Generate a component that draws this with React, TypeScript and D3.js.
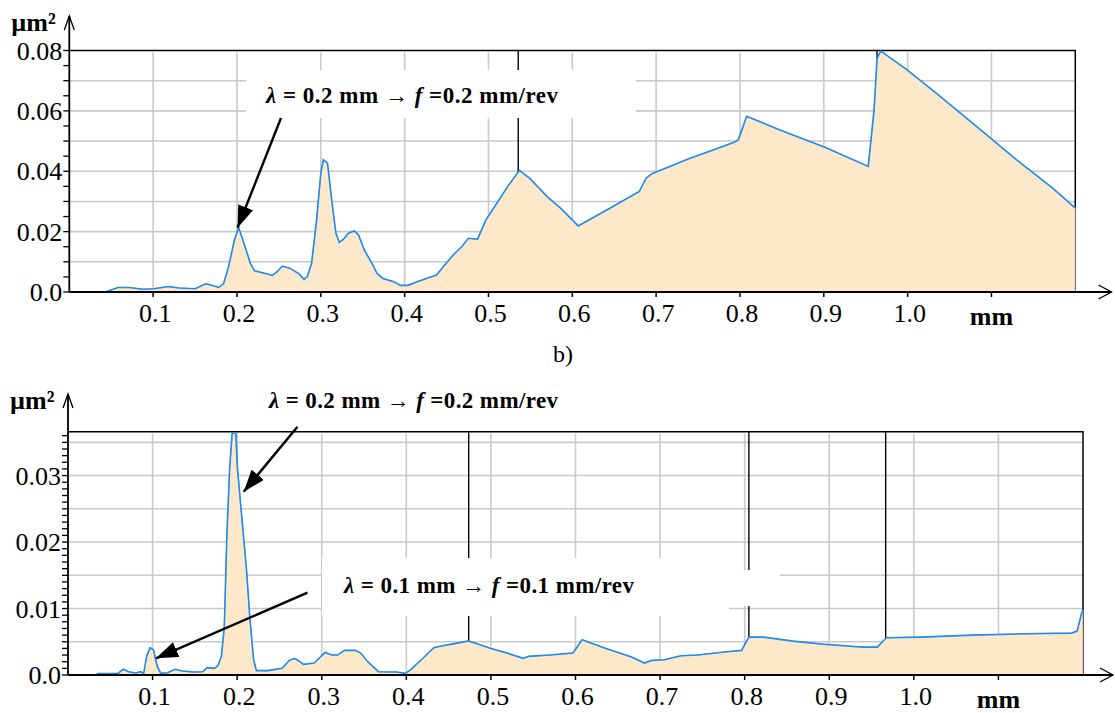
import React from "react";
import * as d3 from "d3";

// spectrum a) — upper panel
const topMm = [
  0, 0.043, 0.058, 0.071, 0.088, 0.101, 0.118, 0.131, 0.15, 0.163, 0.173, 0.178, 0.184, 0.19, 0.197,
  0.202, 0.207, 0.216, 0.221, 0.233, 0.242, 0.248, 0.254, 0.263, 0.274, 0.28, 0.284, 0.289, 0.295,
  0.3, 0.303, 0.308, 0.313, 0.318, 0.322, 0.327, 0.333, 0.34, 0.345, 0.352, 0.361, 0.367, 0.374,
  0.387, 0.395, 0.404, 0.412, 0.425, 0.438, 0.446, 0.459, 0.468, 0.476, 0.487, 0.497, 0.51, 0.523,
  0.537, 0.549, 0.57, 0.586, 0.607, 0.64, 0.68, 0.688, 0.695, 0.736, 0.793, 0.798, 0.808, 0.85,
  0.902, 0.953, 0.96, 0.9636, 0.968, 0.999, 1.034, 1.077, 1.13, 1.173, 1.2,
];
const topPower = [
  0, 0, 0.0015, 0.0015, 0.0009, 0.0011, 0.0018, 0.0013, 0.0011, 0.0027, 0.002, 0.0015, 0.0027, 0.0084,
  0.0173, 0.0213, 0.0173, 0.0095, 0.007, 0.0062, 0.0055, 0.0067, 0.0086, 0.0079, 0.006, 0.0042, 0.0051,
  0.0095, 0.0239, 0.0394, 0.0438, 0.0427, 0.0305, 0.0195, 0.0164, 0.0175, 0.0195, 0.0202, 0.0189,
  0.0139, 0.0095, 0.0062, 0.0045, 0.0034, 0.0022, 0.0022, 0.0031, 0.0044, 0.0056, 0.0084, 0.0126,
  0.015, 0.0178, 0.0175, 0.0239, 0.0294, 0.035, 0.0403, 0.0377, 0.0316, 0.0278, 0.0219, 0.027, 0.0333,
  0.0377, 0.0392, 0.0438, 0.0496, 0.0504, 0.0582, 0.0534, 0.0479, 0.0416, 0.0604, 0.0775, 0.0798,
  0.0737, 0.0659, 0.056, 0.0438, 0.0344, 0.0278,
];

// spectrum b) — lower panel
const bottomMm = [
  0, 0.0325, 0.0359, 0.059, 0.0654, 0.0717, 0.08, 0.0857, 0.0895, 0.093, 0.097, 0.101, 0.1055, 0.1097,
  0.118, 0.1266, 0.135, 0.1477, 0.1595, 0.1646, 0.173, 0.1772, 0.1814, 0.1848, 0.1878, 0.1911, 0.1941,
  0.1983, 0.2004, 0.2046, 0.211, 0.2152, 0.2194, 0.2228, 0.2363, 0.2532, 0.2616, 0.2679, 0.2743,
  0.2785, 0.2911, 0.3038, 0.3122, 0.3186, 0.327, 0.3397, 0.346, 0.3544, 0.367, 0.3882, 0.3987, 0.405,
  0.4177, 0.4325, 0.443, 0.46, 0.4726, 0.481, 0.5, 0.519, 0.538, 0.5443, 0.5696, 0.597, 0.6078, 0.636,
  0.6663, 0.6815, 0.69, 0.7052, 0.7248, 0.7443, 0.779, 0.7964, 0.805, 0.8224, 0.857, 0.896, 0.9177,
  0.9394, 0.9567, 0.9676, 1.0087, 1.0694, 1.13, 1.1865, 1.193, 1.1986, 1.2,
];
const bottomPower = [
  0, 0, 0.0002, 0.00025, 0.00086, 0.0005, 0.0003, 0.0005, 0.00025, 0.0028, 0.0041, 0.0038, 0.0013,
  0.00025, 0.00035, 0.00086, 0.0006, 0.00045, 0.0005, 0.0011, 0.001, 0.0014, 0.0028, 0.0073, 0.021,
  0.031, 0.0364, 0.0364, 0.031, 0.025, 0.0159, 0.0083, 0.0023, 0.00066, 0.00066, 0.001, 0.0022, 0.0025,
  0.002, 0.0016, 0.0018, 0.0034, 0.003, 0.003, 0.0037, 0.0037, 0.0033, 0.002, 0.0005, 0.00045, 0.00025,
  0.00076, 0.0023, 0.0041, 0.0044, 0.0048, 0.0051, 0.0048, 0.004, 0.0033, 0.0025, 0.0028, 0.003, 0.0033,
  0.0053, 0.004, 0.0027, 0.0018, 0.0022, 0.0023, 0.0029, 0.003, 0.0035, 0.0037, 0.0057, 0.0057, 0.0051,
  0.0046, 0.0044, 0.0042, 0.0042, 0.0056, 0.0057, 0.006, 0.0062, 0.0063, 0.0066, 0.0094, 0.0098,
];

const xTicks = [0.1, 0.2, 0.3, 0.4, 0.5, 0.6, 0.7, 0.8, 0.9, 1.0, 1.1];
const xTickLabels = ["0.1", "0.2", "0.3", "0.4", "0.5", "0.6", "0.7", "0.8", "0.9", "1.0"];
const topYTicks = [0, 0.02, 0.04, 0.06, 0.08];
const topYLabels = ["0.0", "0.02", "0.04", "0.06", "0.08"];
const bottomYTicks = [0, 0.01, 0.02, 0.03];
const bottomYLabels = ["0.0", "0.01", "0.02", "0.03"];
const topMarkers = [0.5355, 0.9635];
const bottomMarkers = [0.4737, 0.805, 0.9667];

const FONT = "'Liberation Serif', 'Times New Roman', serif";
const GRID = "#c9c9c9";
const FILL = "#fde8ca";
const BLUE = "#1e8cf0";

function steps(step, max) {
  const n = Math.round(max / step);
  return d3.range(0, n + 1).map((i) => +(i * step).toFixed(6)).filter((v) => v <= max + 1e-9);
}

function valueAt(mm, power, m) {
  const i = Math.max(1, d3.bisectRight(mm, m));
  const t = (m - mm[i - 1]) / (mm[i] - mm[i - 1]);
  return power[i - 1] + t * (power[i] - power[i - 1]);
}

function Panel(props) {
  const { mm, power, yMax, gridStep, minorStep, yTicks, yLabels, markers, frame, boxes } = props;
  const x = d3.scaleLinear().domain([0, 1.2]).range([frame.left, frame.right]);
  const y = d3.scaleLinear().domain([0, yMax]).range([frame.base, frame.top]);
  const pts = mm.map((m, i) => [m, Math.min(power[i], yMax)]);

  const area = d3.area().x((d) => x(d[0])).y0(y(0)).y1((d) => y(d[1]))(pts);
  const line = d3.line().x((d) => x(d[0])).y((d) => y(d[1]))(pts.slice(1));

  const hGrid = steps(gridStep, yMax).filter((v) => v > 0 && y(v) > frame.top + 2);
  const minor = steps(minorStep, yMax);

  return (
    <g>
      {xTicks.map((t) => (
        <line key={"vg" + t} x1={x(t)} x2={x(t)} y1={frame.top + 2} y2={frame.base} stroke={GRID} strokeWidth={1.6} />
      ))}
      {hGrid.map((v) => (
        <line key={"hg" + v} x1={frame.left} x2={frame.right} y1={y(v)} y2={y(v)} stroke={GRID} strokeWidth={1.6} />
      ))}
      {markers.map((m) => (
        <line key={"mk" + m} x1={x(m)} x2={x(m)} y1={frame.top} y2={y(valueAt(mm, power, m))} stroke="#000" strokeWidth={1.4} />
      ))}
      <path d={`M${frame.left},${frame.top}H${frame.right}V${frame.base}`} fill="none" stroke="#000" strokeWidth={1.5} />
      {boxes.map((b, i) => (
        <rect key={"bx" + i} x={b.x} y={b.y} width={b.w} height={b.h} fill="#fff" />
      ))}
      <path d={area} fill={FILL} stroke="#9a9a9a" strokeWidth={0.8} />
      <path d={line} fill="none" stroke={BLUE} strokeWidth={1.6} />

      {/* axes */}
      <line x1={frame.left} x2={frame.left} y1={frame.base} y2={frame.axisTop} stroke="#000" strokeWidth={1.8} />
      <path
        d={`M${frame.left - 5},${frame.axisTop + 14}L${frame.left},${frame.axisTop}L${frame.left + 5},${frame.axisTop + 14}`}
        fill="none"
        stroke="#000"
        strokeWidth={1.3}
      />
      <line x1={frame.left} x2={frame.axisRight} y1={frame.base} y2={frame.base} stroke="#000" strokeWidth={1.8} />
      <path
        d={`M${frame.axisRight - 13},${frame.base - 7}L${frame.axisRight},${frame.base}L${frame.axisRight - 13},${frame.base + 7}`}
        fill="none"
        stroke="#000"
        strokeWidth={1.3}
      />
      {minor.map((v) => (
        <line key={"mt" + v} x1={frame.left - 6} x2={frame.left} y1={y(v)} y2={y(v)} stroke="#000" strokeWidth={1.3} />
      ))}
      {xTicks.map((t) => (
        <line key={"xt" + t} x1={x(t)} x2={x(t)} y1={frame.base} y2={frame.base + 5} stroke="#000" strokeWidth={1.5} />
      ))}

      <g fontFamily={FONT} fontSize={26} fill="#000">
        {yTicks.map((v, i) => (
          <text key={"yl" + v} x={frame.left - 7} y={y(v) + 9} textAnchor="end">
            {yLabels[i]}
          </text>
        ))}
        {xTickLabels.map((l, i) => (
          <text key={"xl" + l} x={x(xTicks[i]) + 2} y={frame.base + 30} textAnchor="middle">
            {l}
          </text>
        ))}
        <text x={x(1.1)} y={frame.base + 33} textAnchor="middle" fontWeight="bold">
          mm
        </text>
        <text x={frame.left - 58} y={frame.axisTop + 15} fontWeight="bold">
          µm²
        </text>
      </g>
    </g>
  );
}

function Note({ x, y, width, lam, feed }) {
  return (
    <text x={x} y={y} fontFamily={FONT} fontSize={23} fontWeight="bold" textLength={width} lengthAdjust="spacing">
      <tspan fontStyle="italic">λ</tspan>
      <tspan>{` = ${lam} mm → `}</tspan>
      <tspan fontStyle="italic">f</tspan>
      <tspan>{` =${feed} mm/rev`}</tspan>
    </text>
  );
}

function Arrow({ from, to }) {
  return <line x1={from[0]} y1={from[1]} x2={to[0]} y2={to[1]} stroke="#000" strokeWidth={2.4} markerEnd="url(#head)" />;
}

export default function App() {
  return (
    <svg width={1115} height={713} style={{ position: "absolute", left: 0, top: 0, background: "#fff" }}>
      <defs>
        <marker id="head" markerUnits="userSpaceOnUse" markerWidth={24} markerHeight={18} refX={22} refY={8} orient="auto">
          <path d="M0,0L22,8L0,16Z" fill="#000" />
        </marker>
      </defs>
      <Panel
        mm={topMm}
        power={topPower}
        yMax={0.08}
        gridStep={0.01}
        minorStep={0.005}
        yTicks={topYTicks}
        yLabels={topYLabels}
        markers={topMarkers}
        frame={{ left: 69.3, right: 1075.3, top: 50.5, base: 292, axisTop: 16, axisRight: 1111.5 }}
        boxes={[{ x: 246, y: 70, w: 390, h: 48 }]}
      />
      <Panel
        mm={bottomMm}
        power={bottomPower}
        yMax={0.0366}
        gridStep={0.005}
        minorStep={0.001}
        yTicks={bottomYTicks}
        yLabels={bottomYLabels}
        markers={bottomMarkers}
        frame={{ left: 68, right: 1083, top: 431.7, base: 675, axisTop: 394, axisRight: 1113 }}
        boxes={[
          { x: 322, y: 558, w: 407, h: 58 },
          { x: 729, y: 570, w: 51, h: 36 },
        ]}
      />
      <text x={563} y={362} fontFamily={FONT} fontSize={24} textAnchor="middle">
        b)
      </text>
      <Note x={266} y={103} width={292} lam="0.2" feed="0.2" />
      <Note x={269} y={408} width={289} lam="0.2" feed="0.2" />
      <Note x={344} y={593} width={290} lam="0.1" feed="0.1" />
      <Arrow from={[281, 118]} to={[237.6, 227.7]} />
      <Arrow from={[297.5, 426.7]} to={[243.7, 491.7]} />
      <Arrow from={[307.5, 592.7]} to={[156, 658.3]} />
    </svg>
  );
}
